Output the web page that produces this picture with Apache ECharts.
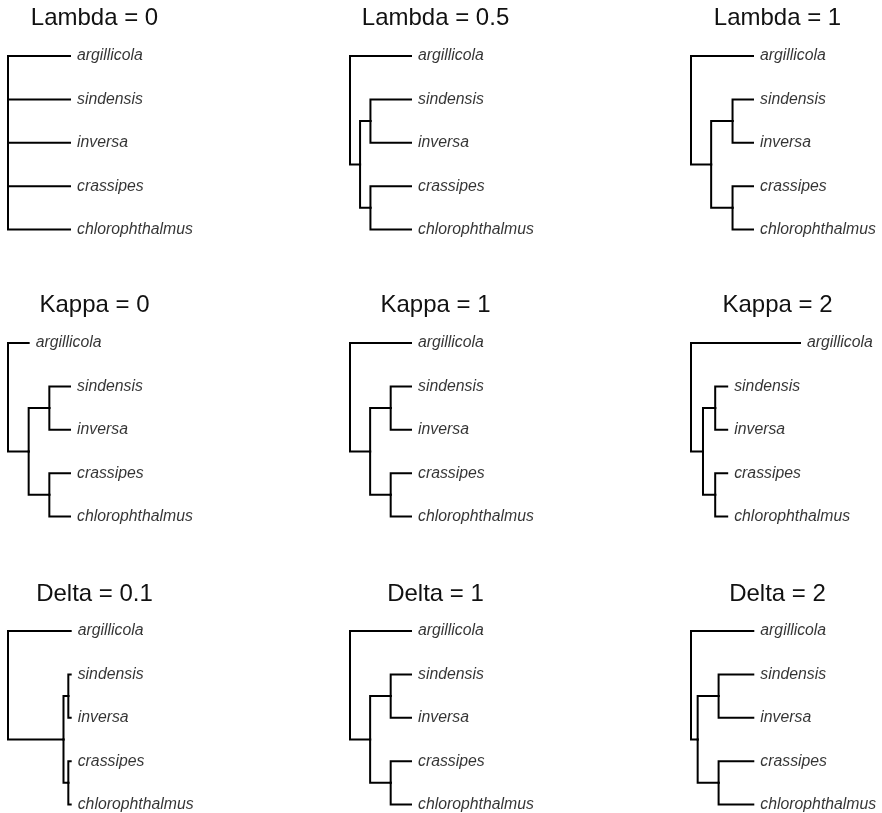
<!DOCTYPE html>
<html>
<head>
<meta charset="utf-8">
<script src="https://cdn.jsdelivr.net/npm/echarts@6/dist/echarts.min.js"></script>
<style>
  html, body { margin: 0; padding: 0; background: #fff; }
  #chart { width: 882px; height: 813px; }
</style>
</head>
<body>
<div id="chart"></div>
<script>
// Tip taxa, top to bottom
const taxa = ['argillicola', 'sindensis', 'inversa', 'crassipes', 'chlorophthalmus'];

// Panel titles, row by row
const panelTitles = [
  'Lambda = 0', 'Lambda = 0.5', 'Lambda = 1',
  'Kappa = 0', 'Kappa = 1', 'Kappa = 2',
  'Delta = 0.1', 'Delta = 1', 'Delta = 2'
];

// Depth from the root of the internal nodes of each transformed tree:
// [ingroup node, sindensis+inversa node, crassipes+chlorophthalmus node]
const nodeDepths = [
  [0, 0, 0],
  [0.165, 0.335, 0.335],
  [0.325, 0.67, 0.67],
  [1, 2, 2],
  [0.33, 0.667, 0.667],
  [0.11, 0.222, 0.222],
  [0.885, 0.962, 0.962],
  [0.33, 0.667, 0.667],
  [0.107, 0.443, 0.443]
];

// Depth from the root of each tip, same order as taxa
const tipDepths = [
  [1, 1, 1, 1, 1],
  [1, 1, 1, 1, 1],
  [1, 1, 1, 1, 1],
  [1, 3, 3, 3, 3],
  [1, 1, 1, 1, 1],
  [1, 0.332, 0.332, 0.332, 0.332],
  [1, 1, 1, 1, 1],
  [1, 1, 1, 1, 1],
  [1, 1, 1, 1, 1]
];

// ---- layout (pixels) ----
const colLeft = [8, 350, 691];
const colTitleX = [94.5, 435.5, 777.5];
const rowTop = [56, 343, 631];
const rowHeight = 173.5;
const rowTitleBaseline = [26, 313.3, 602.7];
const panelPlotWidth = [62, 61, 62, 62, 61, 109, 62.7, 61, 62.3];

const FONT = "'Liberation Sans', Arial, Helvetica, sans-serif";
const INK = '#111';

const grids = [], xAxes = [], yAxes = [], series = [], graphics = [];

for (let p = 0; p < 9; p++) {
  const row = Math.floor(p / 3), col = p % 3;
  const nd = nodeDepths[p], td = tipDepths[p];
  const maxDepth = Math.max.apply(null, td);

  grids.push({
    left: colLeft[col], top: rowTop[row],
    width: panelPlotWidth[p], height: rowHeight,
    containLabel: false
  });
  xAxes.push({ type: 'value', gridIndex: p, min: 0, max: maxDepth, show: false });
  yAxes.push({ type: 'value', gridIndex: p, min: 0, max: taxa.length - 1, inverse: true, show: false });

  // vertical positions of internal nodes: mean of their children
  const yB = (1 + 2) / 2, yC = (3 + 4) / 2, yA = (yB + yC) / 2, yRoot = (0 + yA) / 2;
  // each edge: [parent depth, parent y, child depth, child y]
  const edges = [
    [0, yRoot, td[0], 0],
    [0, yRoot, nd[0], yA],
    [nd[0], yA, nd[1], yB],
    [nd[0], yA, nd[2], yC],
    [nd[1], yB, td[1], 1],
    [nd[1], yB, td[2], 2],
    [nd[2], yC, td[3], 3],
    [nd[2], yC, td[4], 4]
  ];

  series.push({
    type: 'custom',
    xAxisIndex: p, yAxisIndex: p,
    clip: false, silent: true,
    data: edges,
    renderItem: function (params, api) {
      const a = api.coord([api.value(0), api.value(1)]);
      const b = api.coord([api.value(0), api.value(3)]);
      const c = api.coord([api.value(2), api.value(3)]);
      return {
        type: 'polyline',
        shape: { points: [a, b, c] },
        style: { stroke: '#000', lineWidth: 2, fill: null, lineJoin: 'miter', lineCap: 'square' }
      };
    }
  });

  series.push({
    type: 'scatter',
    xAxisIndex: p, yAxisIndex: p,
    silent: true, symbolSize: 0,
    data: taxa.map((t, k) => ({ name: t, value: [td[k], k] })),
    label: {
      show: true, position: 'right', distance: 7,
      formatter: '{b}',
      fontStyle: 'italic', fontSize: 15.8, fontFamily: FONT, color: '#000'
    }
  });

  graphics.push({
    type: 'text',
    x: colTitleX[col], y: rowTitleBaseline[row] - 8,
    silent: true,
    style: {
      text: panelTitles[p],
      textAlign: 'center', textVerticalAlign: 'middle',
      font: '24px ' + FONT, fill: INK
    }
  });
}

const chart = echarts.init(document.getElementById('chart'), null, { renderer: 'canvas' });
chart.setOption({
  animation: false,
  backgroundColor: '#fff',
  grid: grids,
  xAxis: xAxes,
  yAxis: yAxes,
  series: series,
  graphic: graphics
});
</script>
</body>
</html>
